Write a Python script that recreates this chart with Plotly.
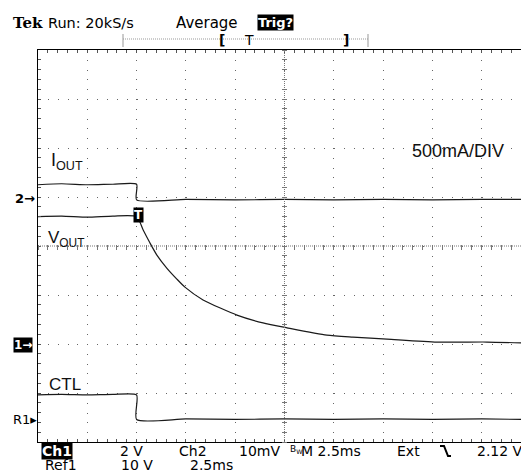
import plotly.graph_objects as go

# time in ms relative to trigger, vertical in screen divisions (0 = bottom)
iout_t = [-5.0, -3.8, -2.5, -1.2, 0.0, 0.0, 2.5, 5.0, 7.5, 10.0, 12.5, 15.0, 17.5, 19.9]
iout_v = [5.25, 5.27, 5.25, 5.26, 5.26, 4.94, 4.95, 4.94, 4.95, 4.94, 4.95, 4.94, 4.95, 4.95]

vout_t = [-5.0, -3.8, -2.5, -1.2, 0.0, 0.34, 0.68, 1.02, 1.53, 2.03, 2.45, 3.37,
          5.09, 6.41, 7.63, 9.65, 10.97, 12.70, 15.23, 17.77, 19.9]
vout_v = [4.60, 4.61, 4.59, 4.61, 4.60, 4.32, 4.06, 3.82, 3.55, 3.33, 3.16, 2.90,
          2.59, 2.43, 2.33, 2.18, 2.14, 2.10, 2.04, 2.04, 2.02]

ctl_t = [-5.0, -3.8, -2.5, -1.2, 0.0, 0.0, 2.5, 5.0, 7.5, 10.0, 12.5, 15.0, 17.5, 19.9]
ctl_v = [0.96, 0.97, 0.96, 0.97, 0.96, 0.46, 0.47, 0.46, 0.47, 0.46, 0.47, 0.46, 0.47, 0.46]

x_range = [-5, 19.9]
y_range = [0, 8]

# the page body adds an 8px margin, so the figure is laid out 8px up/left
OFF = 8
W, H = 529 - OFF, 470 - OFF
L, T = 38 - OFF, 50 - OFF
PW, PH = W - L, 392
B = H - T - PH

SANS = "DejaVu Sans"
ARIAL = "Liberation Sans, Arial"


def px_x(x):
    # x, y given in screen pixels of the final picture
    return (x - OFF - L) / PW


def px_y(y):
    return (T + PH - (y - OFF)) / PH


def _label(text, x, y, size=14, family=SANS, color="black", anchor="left", bg=None, bold=False):
    if bold:
        text = "<b>" + text + "</b>"
    if anchor == "left":
        x = x - 2
    return dict(
        text=text, x=px_x(x), y=px_y(y), xref="paper", yref="paper",
        xanchor=anchor, yanchor="middle", showarrow=False,
        font=dict(family=family, size=size, color=color),
        bgcolor=bg, borderpad=0,
    )


def _pline(x0, y0, x1, y1, color="#999", dash="solid", width=1):
    return dict(
        type="line", xref="paper", yref="paper",
        x0=px_x(x0), y0=px_y(y0), x1=px_x(x1), y1=px_y(y1),
        line=dict(color=color, dash=dash, width=width),
    )


fig = go.Figure()
for tt, vv in [(iout_t, iout_v), (vout_t, vout_v), (ctl_t, ctl_v)]:
    fig.add_trace(go.Scatter(
        x=tt, y=vv, mode="lines", line=dict(color="#1a1a1a", width=1.2, shape="spline", smoothing=0.6),
        showlegend=False, hoverinfo="skip",
    ))
# dummy trace so the centre-line tick axes get drawn
fig.add_trace(go.Scatter(x=[None], y=[None], xaxis="x2", yaxis="y2", showlegend=False))

tick_common = dict(showticklabels=False, showgrid=False, zeroline=False, showline=False,
                   ticks="outside", ticklen=5, tickcolor="#777")

fig.update_layout(
    width=W, height=H,
    margin=dict(l=L, r=0, t=T, b=B),
    paper_bgcolor="white", plot_bgcolor="white",
    xaxis=dict(
        range=x_range, tick0=-5, dtick=2.5, showticklabels=False, zeroline=False,
        showgrid=True, gridcolor="#666", gridwidth=1, griddash="1px,8.8px",
        showline=True, linecolor="black", linewidth=1, mirror="ticks",
        ticks="inside", ticklen=3, tickcolor="#555",
        minor=dict(tick0=-5, dtick=0.5, ticks="inside", ticklen=3, tickcolor="#555", showgrid=False),
    ),
    yaxis=dict(
        range=y_range, tick0=0, dtick=1, showticklabels=False, zeroline=False,
        showgrid=True, gridcolor="#666", gridwidth=1, griddash="1px,8.86px",
        showline=True, linecolor="black", linewidth=1, mirror=False,
        ticks="inside", ticklen=3, tickcolor="#555",
        minor=dict(tick0=0, dtick=0.2, ticks="inside", ticklen=3, tickcolor="#555", showgrid=False),
    ),
    xaxis2=dict(overlaying="x", range=x_range, anchor="free", position=0.5 + 2.5 / PH,
                side="bottom", tick0=-5, dtick=0.5, **tick_common),
    yaxis2=dict(overlaying="y", range=y_range, anchor="free", position=(PW * 5 / 9.96 + 2.5) / PW,
                side="left", tick0=0, dtick=0.2, **tick_common),
)

shapes = [
    # dense dotted centre lines
    dict(type="line", xref="x", yref="y", x0=7.5, x1=7.5, y0=0, y1=8,
         line=dict(color="#777", width=1, dash="1px,1px")),
    dict(type="line", xref="x", yref="y", x0=-5, x1=19.9, y0=4, y1=4,
         line=dict(color="#777", width=1, dash="1px,1px")),
    # trigger position bar
    _pline(123, 39, 368, 39, color="#999", dash="1px,1px"),
    _pline(123, 34, 123, 47, color="#999"),
    _pline(368, 34, 368, 47, color="#999"),
    # falling edge symbol
    dict(type="path", xref="paper", yref="paper",
         path="M %f,%f L %f,%f L %f,%f L %f,%f" % (px_x(440), px_y(446), px_x(444), px_y(446),
                                                   px_x(448), px_y(456), px_x(451), px_y(456)),
         line=dict(color="black", width=2)),
]

annotations = [
    _label("Tek", 14, 23, size=15, family="DejaVu Serif", bold=True),
    _label("Run: 20kS/s", 49, 23, size=14.5),
    _label("Average", 177, 23, size=15),
    _label("Trig?", 275, 23, size=13, color="white", anchor="center", bg="black", bold=True),
    _label("[", 220, 40, size=14, bold=True),
    _label("T", 245, 40, size=14),
    _label("]", 344, 40, size=14, bold=True),
    # channel markers
    _label("2\u2192", 16, 199, size=13, bold=True),
    _label("1\u2192", 23, 345, size=12, color="white", anchor="center", bg="black", bold=True),
    _label("R1\u25b8", 14, 419, size=13),
    # trigger mark on the V_OUT trace
    _label("T", 138, 215, size=12, color="white", anchor="center", bg="black", bold=True),
    # trace labels
    _label("I<sub>OUT</sub>", 52, 161, size=18, family=ARIAL, color="#111"),
    _label("V<sub>OUT</sub>", 49, 239, size=17, family=ARIAL, color="#111"),
    _label("CTL", 50, 384, size=17, family=ARIAL, color="#111"),
    _label("500mA/DIV", 413, 151, size=18, family=ARIAL, color="#111"),
    # bottom status lines
    _label("Ch1", 57, 451, size=14, color="white", anchor="center", bg="black", bold=True),
    _label("2 V", 121, 451),
    _label("Ch2", 180, 451),
    _label("10mV", 240, 451),
    _label("B<sub>W</sub>", 291, 449, size=9),
    _label("M 2.5ms", 302, 451),
    _label("Ext", 398, 451),
    _label("2.12 V", 478, 451),
    _label("Ref1", 46, 465),
    _label("10 V", 122, 465),
    _label("2.5ms", 191, 465),
]

fig.update_layout(shapes=shapes, annotations=annotations)
fig.write_html("out.html")
